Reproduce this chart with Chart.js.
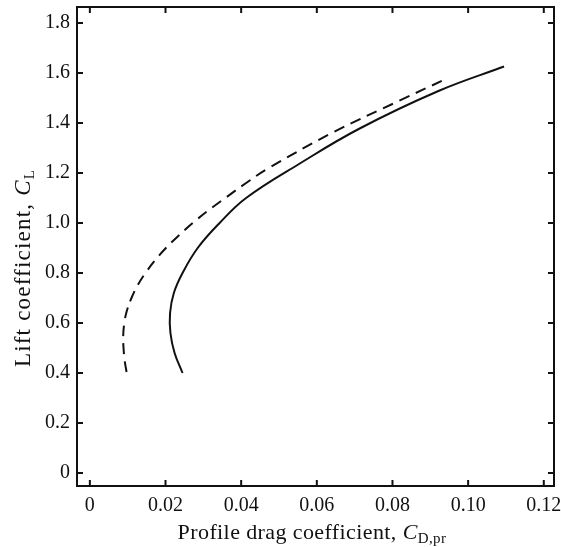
<!DOCTYPE html>
<html>
<head>
<meta charset="utf-8">
<script src="https://cdn.jsdelivr.net/npm/chart.js@4"></script>
<style>
  html, body { margin: 0; padding: 0; background: #fff; }
  #wrap { width: 561px; height: 547px; }
</style>
</head>
<body>
<div id="wrap"><canvas id="chart" width="561" height="547"></canvas></div>
<script>
// data (CD,pr vs CL)
const solidX = [0.0245, 0.0224, 0.0213, 0.0212, 0.0222, 0.0245, 0.0285, 0.0343, 0.0413, 0.0554, 0.0712, 0.0923, 0.1095];
const solidY = [0.40, 0.48, 0.56, 0.64, 0.72, 0.80, 0.90, 1.00, 1.10, 1.237, 1.377, 1.529, 1.626];
const dashX = [0.0097, 0.0092, 0.0089, 0.0088, 0.0091, 0.0098, 0.0110, 0.0126, 0.0147, 0.0172, 0.0201, 0.0235, 0.0272, 0.0313, 0.0358, 0.0415, 0.0470, 0.0641, 0.0818, 0.0937];
const dashY = [0.404, 0.45, 0.50, 0.545, 0.60, 0.65, 0.70, 0.75, 0.80, 0.85, 0.90, 0.95, 1.00, 1.05, 1.10, 1.162, 1.217, 1.361, 1.489, 1.573];

const xTicks = [0, 0.02, 0.04, 0.06, 0.08, 0.10, 0.12];
const xTickLabels = ['0', '0.02', '0.04', '0.06', '0.08', '0.10', '0.12'];
const yTicks = [0, 0.2, 0.4, 0.6, 0.8, 1.0, 1.2, 1.4, 1.6, 1.8];
const yTickLabels = ['0', '0.2', '0.4', '0.6', '0.8', '1.0', '1.2', '1.4', '1.6', '1.8'];

const SERIF = '"Liberation Serif", "DejaVu Serif", serif';
const INK = '#111';

const toPts = (xs, ys) => xs.map((x, i) => ({ x: x, y: ys[i] }));

// no auto padding for overflowing tick labels, the frame has fixed edges
const noPad = s => { s.paddingLeft = s.paddingRight = s.paddingTop = s.paddingBottom = 0; };

// frame, inward ticks and axis titles with italic/subscript symbols
const framePlugin = {
  id: 'frameTicks',
  afterDraw(chart) {
    const { ctx, chartArea: a, scales } = chart;
    const xs = scales.x, ys = scales.y;
    const len = 6;
    ctx.save();
    ctx.strokeStyle = INK;
    ctx.lineWidth = 2;
    ctx.strokeRect(a.left, a.top, a.right - a.left, a.bottom - a.top);
    ctx.beginPath();
    xTicks.forEach(v => {
      const px = xs.getPixelForValue(v);
      ctx.moveTo(px, a.bottom); ctx.lineTo(px, a.bottom - len);
      ctx.moveTo(px, a.top); ctx.lineTo(px, a.top + len);
    });
    yTicks.forEach(v => {
      const py = ys.getPixelForValue(v);
      ctx.moveTo(a.left, py); ctx.lineTo(a.left + len, py);
      ctx.moveTo(a.right, py); ctx.lineTo(a.right - len, py);
    });
    ctx.stroke();

    // titles
    ctx.fillStyle = INK;
    ctx.textBaseline = 'alphabetic';
    const drawTitle = (parts, cx, cy, rot, spacing) => {
      ctx.save();
      ctx.letterSpacing = spacing;
      let total = 0;
      parts.forEach(p => { ctx.font = p.font; total += ctx.measureText(p.text).width; });
      ctx.translate(cx, cy);
      ctx.rotate(rot);
      let x = -total / 2;
      parts.forEach(p => {
        ctx.font = p.font;
        ctx.fillText(p.text, x, p.dy || 0);
        x += ctx.measureText(p.text).width;
      });
      ctx.restore();
    };
    drawTitle([
      { text: 'Profile drag coefficient, ', font: '22px ' + SERIF },
      { text: 'C', font: 'italic 22px ' + SERIF },
      { text: 'D,pr', font: '15px ' + SERIF, dy: 4 }
    ], 312, 539, 0, '0.4px');
    drawTitle([
      { text: 'Lift coefficient, ', font: '23px ' + SERIF },
      { text: 'C', font: 'italic 23px ' + SERIF },
      { text: 'L', font: '15px ' + SERIF, dy: 4 }
    ], 30, 268, -Math.PI / 2, '1.2px');
    ctx.restore();
  }
};

new Chart(document.getElementById('chart'), {
  type: 'scatter',
  data: {
    datasets: [{
      label: 'solid',
      data: toPts(solidX, solidY),
      showLine: true,
      borderColor: INK,
      borderWidth: 2,
      pointRadius: 0,
      tension: 0.4
    }, {
      label: 'dashed',
      data: toPts(dashX, dashY),
      showLine: true,
      borderColor: INK,
      borderWidth: 2,
      borderDash: [11, 7],
      pointRadius: 0,
      tension: 0.4
    }]
  },
  options: {
    responsive: false,
    animation: false,
    layout: { padding: { top: 7, right: 7, left: 0, bottom: 0 } },
    plugins: { legend: { display: false }, tooltip: { enabled: false } },
    scales: {
      x: {
        type: 'linear',
        min: -0.0034,
        max: 0.1227,
        afterBuildTicks: s => { s.ticks = xTicks.map(v => ({ value: v })); },
        afterFit: s => { s.height = 61; noPad(s); },
        grid: { display: false, drawTicks: false },
        border: { display: false },
        ticks: {
          padding: 8,
          color: INK,
          font: { family: SERIF, size: 20 },
          maxRotation: 0,
          callback: (v, i) => xTickLabels[i]
        }
      },
      y: {
        type: 'linear',
        min: -0.052,
        max: 1.864,
        afterBuildTicks: s => { s.ticks = yTicks.map(v => ({ value: v })); },
        afterFit: s => { s.width = 77; noPad(s); },
        grid: { display: false, drawTicks: false },
        border: { display: false },
        ticks: {
          padding: 7,
          color: INK,
          font: { family: SERIF, size: 20 },
          callback: (v, i) => yTickLabels[i]
        }
      }
    }
  },
  plugins: [framePlugin]
});
</script>
</body>
</html>
